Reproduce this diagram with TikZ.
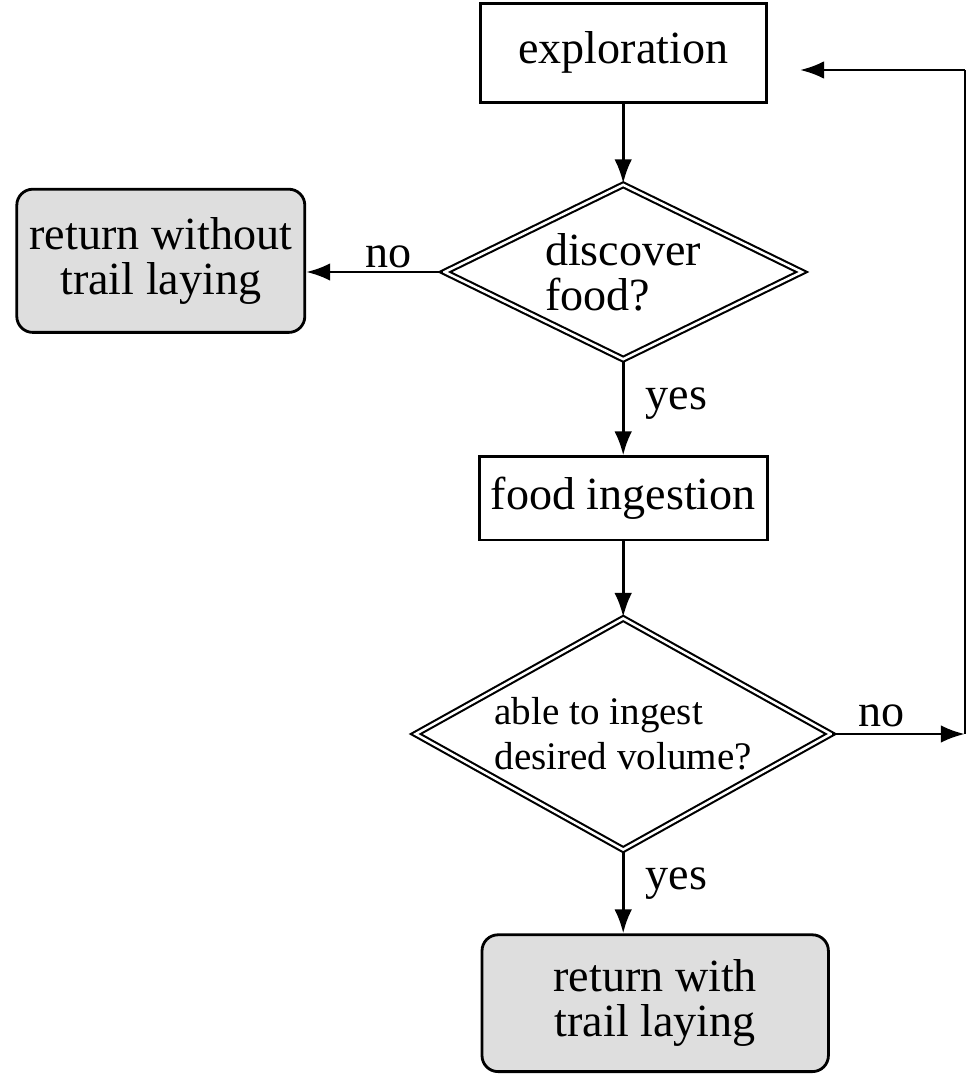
\documentclass[tikz,border=0pt]{standalone}
\usepackage{fontspec}
\setmainfont{Liberation Serif}
\usetikzlibrary{arrows.meta,shapes.geometric}

\tikzset{
  stepbox/.style={draw, line width=1pt, inner sep=0pt, align=center},
  endbox/.style={draw, line width=1pt, fill=black!13, rounded corners=0.2cm, inner sep=0pt, align=center},
  choice/.style={diamond, draw, double, line width=0.75pt, double distance=0.9pt, inner sep=0pt, align=left},
  flow/.style={line width=1pt, -{Latex[length=0.3cm,width=0.22cm]}},
}

\begin{document}
\begin{tikzpicture}
			%%%%% START %%%%%
			\useasboundingbox (0, 0) rectangle (12.0875, -13.45);
			\fontsize{16.4}{16}\selectfont
			
			\node[stepbox, minimum width=3.575cm, minimum height=1.24cm] (explore) at (7.79, -0.66) {exploration};
			\node[choice, aspect=2.05, minimum width=4.475cm, minimum height=2.19cm] (discover) at (7.79, -3.4) {discover\\food?};
			\node[endbox, minimum width=3.6cm, minimum height=1.79cm] (notrail) at (2.01, -3.26) {return without\\trail laying};
			\node[stepbox, minimum width=3.6cm, minimum height=1.04cm] (ingest) at (7.79, -6.23) {food ingestion};
			\node[choice, aspect=1.79, minimum width=5.2cm, minimum height=2.9cm, font=\fontsize{13.9}{16}\selectfont] (able) at (7.79, -9.175) {able to ingest\\desired volume?};
			\node[endbox, minimum width=4.33cm, minimum height=1.71cm] (trail) at (8.19, -12.54) {return with\\trail laying};
			
			\coordinate (corner) at (12.06, -9.175);
			\coordinate (backin) at (10.0, -0.875);
			
			\draw[flow] (explore) -- (discover);
			\draw[flow] (discover.west) -- node[above, pos=0.4, inner sep=1pt] {no} (discover.west -| notrail.east);
			\draw[flow] (discover) -- node[right, pos=0.45, xshift=2pt] {yes} (ingest);
			\draw[flow] (ingest) -- (able);
			\draw[flow] (able.south) -- node[right, pos=0.4, xshift=2pt] {yes} (able.south |- trail.north);
			\draw[flow] (able.east) -- node[above, pos=0.37, inner sep=2pt] {no} (corner);
			
			\draw[line width=0.5pt] (corner) -- (corner |- backin);
			\draw[flow] (corner |- backin) -- (backin);
			%%%%% END %%%%%
		\end{tikzpicture}
\end{document}
